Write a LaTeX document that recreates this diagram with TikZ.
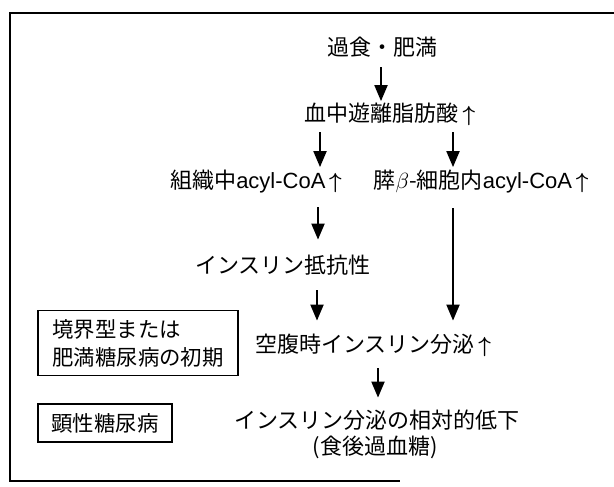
\documentclass[tikz,border=0pt]{standalone}
\usepackage{fontspec}
\setmainfont{Noto Sans CJK JP}
\newfontfamily\latf{Liberation Sans}
\usetikzlibrary{arrows.meta}
\newcommand{\upar}{\,{\boldmath$\uparrow$}}
\begin{document}
\begin{tikzpicture}[x=0.5pt,y=-0.5pt,
  lbl/.style={inner sep=2pt, text height=8.5pt, text depth=2pt, font=\fontsize{11}{13}\selectfont},
  arr/.style={line width=1pt, -{Triangle[width=6.5pt,length=8pt]}},
  stagebox/.style={draw, line width=0.75pt, align=left, inner sep=0pt, font=\fontsize{10.7}{14}\selectfont},
  frameline/.style={line width=0.8pt}]
\useasboundingbox (0,0) rectangle (614,486);
% frame (open on the right, as scanned)
\coordinate (fTL) at (10,13);
\coordinate (fTR) at (614,13);
\coordinate (fBL) at (10,481);
\coordinate (fBR) at (400,481);
\draw[frameline] (fTR) -- (fTL) -- (fBL) -- (fBR);

% labels
\node[lbl] (eat)  at (382,49)  {過食・肥満};
\node[lbl] (ffa)  at (390,115) {血中遊離脂肪酸\upar};
\node[lbl] (tis)  at (256,182) {組織中{\latf acyl-CoA}\upar};
\node[lbl] (beta) at (481,182) {膵$\beta$-細胞内{\latf acyl-CoA}\upar};
\node[lbl] (ir)   at (283,267) {インスリン抵抗性};
\node[lbl] (fast) at (373,346) {空腹時インスリン分泌\upar};
\node[lbl] (rel)  at (377,422) {インスリン分泌の相対的低下};
\node[lbl] (post) at (375,448) {(食後過血糖)};

% stage boxes
\node[stagebox, minimum width=100pt, minimum height=32.5pt] (border) at (138,343)
  {境界型または\\肥満糖尿病の初期};
\node[stagebox, minimum width=67pt, minimum height=19pt, align=center] (overt) at (105,423)
  {顕性糖尿病};

% arrow x positions
\coordinate (xa) at (381,0);
\coordinate (xb) at (320,0);
\coordinate (xc) at (453,0);
\coordinate (xd) at (318,0);
\coordinate (xe) at (317,0);
\coordinate (xf) at (378,0);

\draw[arr, shorten <=1.75pt, shorten >=-0.5pt] (eat.south -| xa) -- (ffa.north -| xa);
\draw[arr, shorten <=1.25pt] (ffa.south -| xb) -- (tis.north -| xb);
\draw[arr, shorten <=1.25pt] (ffa.south -| xc) -- (beta.north -| xc);
\draw[arr, shorten <=5.25pt, shorten >=6.25pt] (tis.south -| xd) -- (ir.north -| xd);
\draw[arr, shorten <=5.75pt, shorten >=5.25pt] (beta.south -| xc) -- (fast.north -| xc);
\draw[arr, shorten <=4.25pt, shorten >=5.25pt] (ir.south -| xe) -- (fast.north -| xe);
\draw[arr, shorten <=3.75pt, shorten >=4.75pt] (fast.south -| xf) -- (rel.north -| xf);
\end{tikzpicture}
\end{document}
